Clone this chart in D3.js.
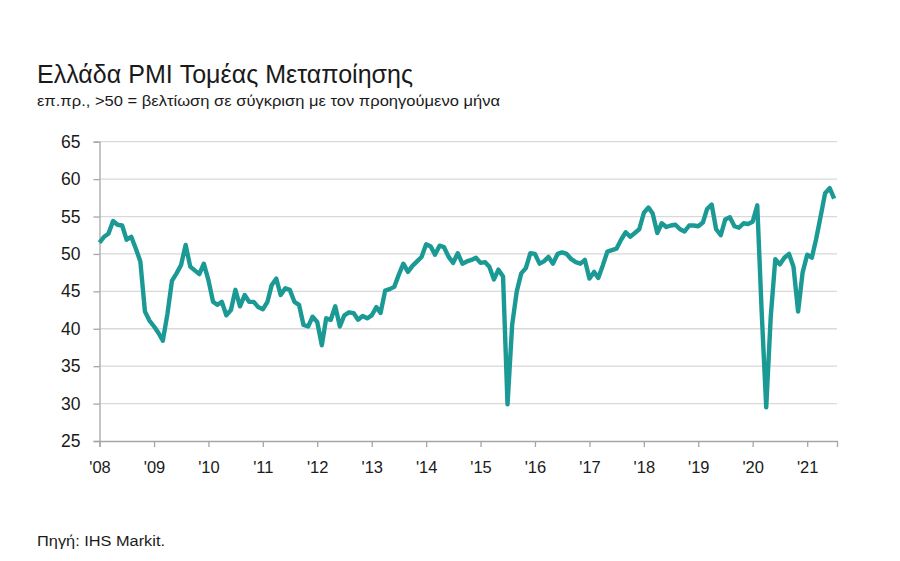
<!DOCTYPE html>
<html>
<head>
<meta charset="utf-8">
<script src="https://cdn.jsdelivr.net/npm/d3@7/dist/d3.min.js"></script>
<style>
  html, body { margin: 0; padding: 0; background: #ffffff; }
  svg { display: block; font-family: "Liberation Sans", Arial, sans-serif; }
</style>
</head>
<body>
<svg id="chart" width="900" height="561"></svg>
<script>
// ---- Data (monthly, Jan 2008 – Jul 2021) ----
const firstMonth = "2008-01-01";
const pmi = [
  // 2008
  51.5, 52.3, 52.7, 54.4, 53.9, 53.8, 51.9, 52.3, 50.7, 49.0, 42.3, 41.1,
  // 2009
  40.3, 39.4, 38.4, 42.0, 46.4, 47.4, 48.5, 51.2, 48.3, 47.8, 47.3, 48.7,
  // 2010
  46.5, 43.6, 43.2, 43.6, 41.8, 42.5, 45.2, 43.0, 44.5, 43.6, 43.6, 42.9,
  // 2011
  42.6, 43.6, 45.8, 46.7, 44.5, 45.4, 45.2, 43.6, 43.2, 40.5, 40.3, 41.6,
  // 2012
  40.9, 37.8, 41.4, 41.2, 43.0, 40.3, 41.8, 42.2, 42.1, 41.2, 41.7, 41.4,
  // 2013
  41.8, 42.9, 42.1, 45.1, 45.3, 45.6, 47.2, 48.7, 47.6, 48.4, 49.0, 49.6,
  // 2014
  51.3, 51.0, 49.9, 51.1, 50.9, 49.6, 48.8, 50.1, 48.7, 49.0, 49.2, 49.5,
  // 2015
  48.8, 48.9, 48.3, 46.6, 47.9, 47.0, 29.9, 40.5, 45.0, 47.4, 48.1, 50.1,
  // 2016
  50.0, 48.7, 49.0, 49.6, 48.7, 50.0, 50.2, 50.0, 49.3, 48.9, 48.7, 49.2,
  // 2017
  46.7, 47.6, 46.8, 48.5, 50.3, 50.5, 50.7, 51.9, 52.9, 52.3, 52.8, 53.3,
  // 2018
  55.5, 56.2, 55.4, 52.8, 54.1, 53.6, 53.8, 53.9, 53.3, 53.0, 53.8, 53.8,
  // 2019
  53.7, 54.2, 56.0, 56.6, 53.3, 52.5, 54.6, 54.9, 53.7, 53.5, 54.1, 54.0,
  // 2020
  54.3, 56.5, 42.5, 29.5, 41.5, 49.3, 48.6, 49.5, 50.0, 48.3, 42.3, 47.5,
  // 2021
  49.9, 49.5, 51.9, 55.0, 58.1, 58.8, 57.4
];
const yTicks = [25, 30, 35, 40, 45, 50, 55, 60, 65];
const xTickYears = [2008, 2009, 2010, 2011, 2012, 2013, 2014, 2015, 2016, 2017, 2018, 2019, 2020, 2021];
const xTickLabels = ["'08", "'09", "'10", "'11", "'12", "'13", "'14", "'15", "'16", "'17", "'18", "'19", "'20", "'21"];

const titleText = "Ελλάδα PMI Τομέας Μεταποίησης";
const subtitleText = "επ.πρ., >50 = βελτίωση σε σύγκριση με τον προηγούμενο μήνα";
const sourceText = "Πηγή: IHS Markit.";

// ---- Build ----
const parse = d3.utcParse("%Y-%m-%d");
const start = parse(firstMonth);
const data = pmi.map((v, i) => ({ date: d3.utcMonth.offset(start, i), value: v }));

const svg = d3.select("#chart");
const plotLeft = 99.5, plotRight = 837, plotTop = 141.7, plotBottom = 441;

const x = d3.scaleUtc()
  .domain([start, parse("2021-07-20")])
  .range([plotLeft, plotRight]);
const y = d3.scaleLinear().domain([25, 65]).range([plotBottom, plotTop]);

const axisColor = "#a6a6a6";
const gridColor = "#d9d9d9";
const textColor = "#1a1a1a";

// gridlines
svg.append("g").selectAll("line")
  .data(yTicks.filter(t => t !== 25))
  .join("line")
  .attr("x1", plotLeft).attr("x2", plotRight)
  .attr("y1", d => y(d)).attr("y2", d => y(d))
  .attr("stroke", gridColor).attr("stroke-width", 1.3);

// y axis
const yAxis = d3.axisLeft(y).tickValues(yTicks).tickSize(6).tickPadding(13).tickFormat(d3.format("d"));
const gy = svg.append("g").attr("transform", `translate(${plotLeft},0)`).call(yAxis);
gy.select(".domain").attr("stroke", axisColor).attr("stroke-width", 1.3);
gy.selectAll(".tick line").attr("stroke", axisColor).attr("stroke-width", 1.3);
gy.selectAll(".tick text").attr("fill", textColor).attr("font-size", 17.5)
  .attr("font-family", "'Liberation Sans', Arial, sans-serif");

// x axis
const xAxis = d3.axisBottom(x)
  .tickValues(xTickYears.map(yr => new Date(Date.UTC(yr, 0, 1))))
  .tickSize(6).tickPadding(14)
  .tickFormat((d, i) => xTickLabels[i]);
const gx = svg.append("g").attr("transform", `translate(0,${plotBottom})`).call(xAxis);
gx.select(".domain").attr("stroke", axisColor).attr("stroke-width", 1.3);
gx.selectAll(".tick line").attr("stroke", axisColor).attr("stroke-width", 1.3);
gx.selectAll(".tick text").attr("fill", textColor).attr("font-size", 16.5)
  .attr("font-family", "'Liberation Sans', Arial, sans-serif");

// line
const line = d3.line().x(d => x(d.date)).y(d => y(d.value)).curve(d3.curveLinear);
svg.append("path")
  .datum(data)
  .attr("d", line)
  .attr("fill", "none")
  .attr("stroke", "#1b9a95")
  .attr("stroke-width", 4.4)
  .attr("stroke-linejoin", "round");

// titles
svg.append("text").attr("x", 37).attr("y", 83)
  .attr("font-size", 26).attr("fill", textColor)
  .attr("textLength", 376).attr("lengthAdjust", "spacingAndGlyphs")
  .text(titleText);
svg.append("text").attr("x", 37).attr("y", 106)
  .attr("font-size", 14.5).attr("fill", textColor)
  .attr("textLength", 463).attr("lengthAdjust", "spacingAndGlyphs")
  .text(subtitleText);
svg.append("text").attr("x", 37).attr("y", 546)
  .attr("font-size", 14).attr("fill", textColor)
  .attr("textLength", 128).attr("lengthAdjust", "spacingAndGlyphs")
  .text(sourceText);
</script>
</body>
</html>
